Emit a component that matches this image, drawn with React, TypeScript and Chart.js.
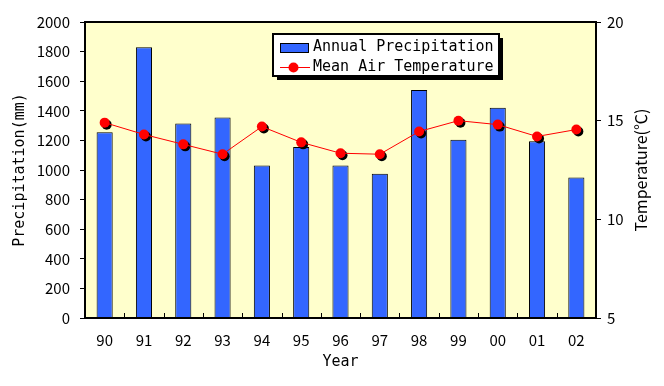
import React, { useEffect, useRef } from "react";
import { Chart, registerables } from "chart.js";

Chart.register(...registerables);

const years = ["90", "91", "92", "93", "94", "95", "96", "97", "98", "99", "00", "01", "02"];
const precipitation = [1255, 1830, 1315, 1355, 1030, 1155, 1030, 975, 1540, 1205, 1420, 1195, 950];
const temperature = [14.9, 14.3, 13.8, 13.3, 14.7, 13.9, 13.35, 13.3, 14.45, 15.0, 14.8, 14.2, 14.55];
const precipRange = { min: 0, max: 2000, step: 200 };
const tempRange = { min: 5, max: 20, step: 5 };
const barLabel = "Annual Precipitation";
const lineLabel = "Mean Air Temperature";
const xTitle = "Year";
const leftTitle = "Precipitation(mm)";
const rightTitle = "Temperature(℃)";

const BAR_COLOR = "#3366FF";
const LINE_COLOR = "#FF0000";
const PLOT_BG = "#FFFFCC";
const MONO = "'DejaVu Sans Mono', 'Liberation Mono', monospace";
const TICK_FONT = "'Noto Sans CJK JP', 'DejaVu Sans', sans-serif";

const decorPlugin = {
  id: "decor",
  beforeDraw(chart: any) {
    const { ctx, chartArea: a } = chart;
    ctx.save();
    ctx.fillStyle = "#FFFFFF";
    ctx.fillRect(0, 0, chart.width, chart.height);
    ctx.fillStyle = PLOT_BG;
    ctx.fillRect(a.left, a.top, a.right - a.left, a.bottom - a.top);
    ctx.restore();
  },
  beforeDatasetDraw(chart: any, args: any) {
    const ds = chart.data.datasets[args.index];
    if (ds.type !== "line") return;
    const { ctx } = chart;
    const meta = chart.getDatasetMeta(args.index);
    ctx.save();
    ctx.fillStyle = "#000000";
    meta.data.forEach((el: any) => {
      ctx.beginPath();
      ctx.arc(el.x + 2, el.y + 2, 5, 0, Math.PI * 2);
      ctx.fill();
    });
    ctx.restore();
  },
  afterDraw(chart: any) {
    const { ctx, chartArea: a } = chart;
    const xs = chart.scales.x;
    ctx.save();
    ctx.strokeStyle = "#000";
    ctx.lineWidth = 1;
    for (let i = 1; i < years.length; i++) {
      const x = Math.round((xs.getPixelForValue(i - 1) + xs.getPixelForValue(i)) / 2) + 0.5;
      ctx.beginPath();
      ctx.moveTo(x, a.bottom);
      ctx.lineTo(x, a.bottom - 5);
      ctx.stroke();
    }
    ctx.lineWidth = 2;
    ctx.strokeRect(a.left, a.top, a.right - a.left, a.bottom - a.top);

    ctx.fillStyle = "#000";
    ctx.textAlign = "center";
    ctx.textBaseline = "middle";
    ctx.font = `15px ${MONO}`;
    ctx.fillText(xTitle, (a.left + a.right) / 2, 362);
    ctx.save();
    ctx.translate(20, (a.top + a.bottom) / 2);
    ctx.rotate(-Math.PI / 2);
    ctx.font = `15px ${MONO}`;
    ctx.fillText(leftTitle, 0, 0);
    ctx.restore();
    ctx.save();
    ctx.translate(641, (a.top + a.bottom) / 2);
    ctx.rotate(-Math.PI / 2);
    ctx.font = `16px ${TICK_FONT}`;
    ctx.fillText(rightTitle, 0, 0);
    ctx.restore();

    // legend
    const lx = 273, ly = 34, lw = 226, lh = 42;
    ctx.fillStyle = "#000";
    ctx.fillRect(lx + 4, ly + 4, lw, lh);
    ctx.fillStyle = "#FFF";
    ctx.fillRect(lx, ly, lw, lh);
    ctx.lineWidth = 2;
    ctx.strokeStyle = "#000";
    ctx.strokeRect(lx, ly, lw, lh);
    ctx.fillStyle = BAR_COLOR;
    ctx.fillRect(280, 43, 29, 10);
    ctx.lineWidth = 1;
    ctx.strokeRect(280.5, 43.5, 28, 9);
    ctx.strokeStyle = LINE_COLOR;
    ctx.beginPath();
    ctx.moveTo(280, 67.5);
    ctx.lineTo(310, 67.5);
    ctx.stroke();
    ctx.fillStyle = LINE_COLOR;
    ctx.beginPath();
    ctx.arc(293.5, 67.5, 5, 0, Math.PI * 2);
    ctx.fill();
    ctx.fillStyle = "#000";
    ctx.textAlign = "left";
    ctx.font = `15px ${MONO}`;
    ctx.fillText(barLabel, 313, 47.5);
    ctx.fillText(lineLabel, 313, 67.5);
    ctx.restore();
  },
};

const plain = (v: any) => String(v);

export default function App() {
  const ref = useRef<HTMLCanvasElement>(null);
  useEffect(() => {
    document.body.style.margin = "0";
    const chart = new Chart(ref.current as HTMLCanvasElement, {
      type: "bar",
      data: {
        labels: years,
        datasets: [
          {
            type: "line",
            label: lineLabel,
            data: temperature,
            yAxisID: "y1",
            borderColor: LINE_COLOR,
            borderWidth: 1,
            backgroundColor: LINE_COLOR,
            pointRadius: 5,
            pointBorderWidth: 0,
            pointBackgroundColor: LINE_COLOR,
            tension: 0,
            order: 0,
          } as any,
          {
            type: "bar",
            label: barLabel,
            data: precipitation,
            yAxisID: "y",
            backgroundColor: BAR_COLOR,
            borderColor: "#000000",
            borderWidth: 1,
            categoryPercentage: 1,
            barPercentage: 0.41,
            order: 1,
          },
        ],
      },
      options: {
        animation: false,
        responsive: false,
        layout: { padding: { top: 22, left: 0, right: 0, bottom: 0 } },
        plugins: { legend: { display: false }, tooltip: { enabled: false } },
        scales: {
          x: {
            grid: { display: false, drawTicks: false },
            border: { display: false },
            ticks: { color: "#000", font: { family: TICK_FONT, size: 15 }, padding: 13, maxRotation: 0 },
            afterFit: (s: any) => { s.height = 68; },
          },
          y: {
            position: "left",
            min: precipRange.min,
            max: precipRange.max,
            ticks: { stepSize: precipRange.step, callback: plain, color: "#000", font: { family: TICK_FONT, size: 15 }, padding: 10 },
            grid: { drawOnChartArea: false, drawTicks: true, tickLength: 5, color: "#000" },
            border: { display: false },
            afterFit: (s: any) => { s.width = 85; },
          },
          y1: {
            position: "right",
            min: tempRange.min,
            max: tempRange.max,
            ticks: { stepSize: tempRange.step, callback: plain, color: "#000", font: { family: TICK_FONT, size: 15 }, padding: 6 },
            grid: { drawOnChartArea: false, drawTicks: true, tickLength: 5, color: "#000" },
            border: { display: false },
            afterFit: (s: any) => { s.width = 68; },
          },
        },
      },
      plugins: [decorPlugin],
    });
    return () => chart.destroy();
  }, []);
  return (
    <div style={{ position: "absolute", left: 0, top: 0, width: 664, height: 386 }}>
      <canvas ref={ref} width={664} height={386} style={{ width: 664, height: 386 }} />
    </div>
  );
}
